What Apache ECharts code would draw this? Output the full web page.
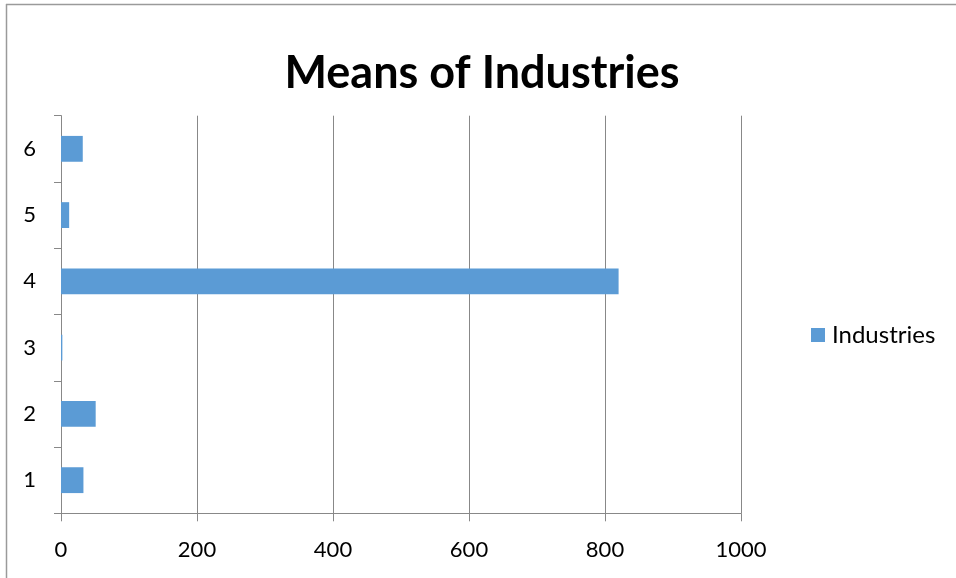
<!DOCTYPE html>
<html>
<head>
<meta charset="utf-8">
<script src="https://cdn.jsdelivr.net/npm/echarts@6/dist/echarts.min.js"></script>
<style>
  html, body { margin: 0; padding: 0; background: #fff; }
  #chart { width: 956px; height: 578px; }
</style>
</head>
<body>
<div id="chart"></div>
<script>
// Industry categories (bottom to top) and their mean values
const categories = ['1', '2', '3', '4', '5', '6'];
const industryMeans = [33, 51, 2, 820, 12, 32];
const xTicks = [0, 200, 400, 600, 800, 1000];

const FONT = 'Lato';
const chart = echarts.init(document.getElementById('chart'));

chart.setOption({
  animation: false,
  backgroundColor: '#ffffff',
  title: {
    text: 'Means of Industries',
    left: 477,
    textAlign: 'center',
    top: 46,
    textStyle: { fontFamily: FONT, fontWeight: 'bold', fontSize: 45, color: '#000' }
  },
  legend: {
    data: ['Industries'],
    left: 806,
    top: 318,
    orient: 'vertical',
    icon: 'rect',
    itemWidth: 14,
    itemHeight: 14,
    itemGap: 7,
    textStyle: { fontFamily: FONT, fontSize: 24, color: '#000', padding: [0, 0, 0, 2] }
  },
  grid: { left: 61, right: 215, top: 115.7, bottom: 64.7, containLabel: false },
  xAxis: {
    type: 'value',
    min: xTicks[0],
    max: xTicks[xTicks.length - 1],
    interval: 200,
    axisLine: { show: true, lineStyle: { color: '#888', width: 1 } },
    axisTick: { show: true, length: 8, lineStyle: { color: '#888' } },
    splitLine: { show: true, lineStyle: { color: '#888', width: 1 } },
    axisLabel: { fontFamily: FONT, fontSize: 22, color: '#000', margin: 26, formatter: v => String(v) }
  },
  yAxis: {
    type: 'category',
    data: categories,
    axisLine: { show: true, lineStyle: { color: '#888', width: 1 } },
    axisTick: { show: true, length: 7, lineStyle: { color: '#888' } },
    axisLabel: { fontFamily: FONT, fontSize: 22, color: '#000', margin: 25 }
  },
  series: [{
    name: 'Industries',
    type: 'bar',
    data: industryMeans,
    barWidth: '39%',
    itemStyle: { color: '#5B9BD5' }
  }],
  graphic: [
    { type: 'line', shape: { x1: 6, y1: 4.5, x2: 956, y2: 4.5 }, style: { stroke: '#9a9a9a', lineWidth: 1.5 } },
    { type: 'line', shape: { x1: 6.5, y1: 4, x2: 6.5, y2: 578 }, style: { stroke: '#9a9a9a', lineWidth: 1.5 } }
  ]
});
</script>
</body>
</html>
